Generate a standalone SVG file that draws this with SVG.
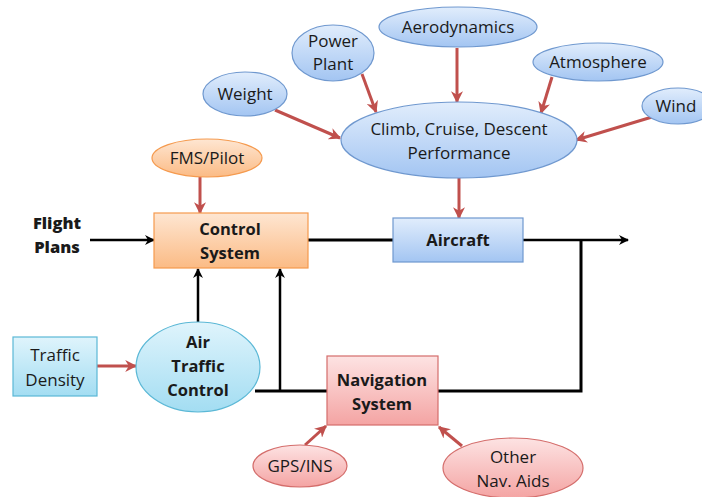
<svg xmlns="http://www.w3.org/2000/svg" width="702" height="497" viewBox="0 0 702 497">
<defs>
<linearGradient id="gBlue" x1="0" y1="0" x2="0" y2="1"><stop offset="0" stop-color="#e1edfc"/><stop offset="1" stop-color="#a3c5f2"/></linearGradient>
<linearGradient id="gOrange" x1="0" y1="0" x2="0" y2="1"><stop offset="0" stop-color="#fee6d2"/><stop offset="1" stop-color="#fbbb85"/></linearGradient>
<linearGradient id="gCyan" x1="0" y1="0" x2="0" y2="1"><stop offset="0" stop-color="#dff4fc"/><stop offset="1" stop-color="#a3ddf2"/></linearGradient>
<linearGradient id="gPink" x1="0" y1="0" x2="0" y2="1"><stop offset="0" stop-color="#fde3e3"/><stop offset="1" stop-color="#f4a4a3"/></linearGradient>
<marker id="aRed" viewBox="0 0 10 10" refX="9" refY="5" markerWidth="4" markerHeight="4" orient="auto"><path d="M0,0 L10,5 L0,10 L3,5 z" fill="#c0504d"/></marker>
<marker id="aBlk" viewBox="0 0 10 10" refX="9" refY="5" markerWidth="4" markerHeight="4" orient="auto"><path d="M0,0 L10,5 L0,10 L3,5 z" fill="#000"/></marker>
</defs>
<style>
.t{font-family:"Open Sans","Liberation Sans",sans-serif;font-size:17px;fill:#1a1a1a;text-anchor:middle}
.b{font-weight:bold;font-size:16.5px}
.blue{fill:url(#gBlue);stroke:#6f98cf;stroke-width:1.2}
.orange{fill:url(#gOrange);stroke:#f59a4e;stroke-width:1.2}
.cyan{fill:url(#gCyan);stroke:#5bb8d6;stroke-width:1.2}
.pink{fill:url(#gPink);stroke:#d46d6b;stroke-width:1.2}
.red{stroke:#c0504d;stroke-width:3;fill:none;marker-end:url(#aRed)}
.blk{stroke:#000;stroke-width:3;fill:none}
.blka{stroke:#000;stroke-width:2.5;fill:none;marker-end:url(#aBlk)}
</style>
<rect width="702" height="497" fill="#fff"/>
<g id="connectors">
<line class="red" x1="275" y1="110" x2="340" y2="138"/>
<line class="red" x1="362" y1="74" x2="376" y2="112"/>
<line class="red" x1="457" y1="48" x2="457" y2="102"/>
<line class="red" x1="552" y1="77" x2="541" y2="113"/>
<line class="red" x1="652" y1="117" x2="576" y2="140"/>
<line class="red" x1="459" y1="178" x2="459" y2="218"/>
<line class="red" x1="200" y1="177" x2="200" y2="213"/>
<line class="red" x1="97" y1="366" x2="136" y2="366"/>
<line class="red" x1="305" y1="445" x2="326" y2="426"/>
<line class="red" x1="462" y1="446" x2="439" y2="427"/>
<line class="blka" x1="90" y1="240" x2="154" y2="240"/>
<line class="blk" x1="308" y1="240" x2="393" y2="240"/>
<line class="blka" x1="523" y1="240" x2="628" y2="240"/>
<polyline class="blk" points="581,240 581,391 438,391"/>
<polyline class="blk" points="255,391 327,391"/>
<line class="blka" x1="198" y1="322" x2="198" y2="269"/>
<line class="blka" x1="280" y1="391" x2="280" y2="269"/>
</g>
<g id="aerodynamics"><ellipse class="blue" cx="458" cy="27" rx="79" ry="20"/><text class="t" x="458" y="33">Aerodynamics</text></g>
<g id="powerplant"><ellipse class="blue" cx="333" cy="53" rx="41" ry="28"/><text class="t" x="333" y="47">Power</text><text class="t" x="333" y="70">Plant</text></g>
<g id="atmosphere"><ellipse class="blue" cx="598" cy="62" rx="65" ry="19"/><text class="t" x="598" y="68">Atmosphere</text></g>
<g id="weight"><ellipse class="blue" cx="245" cy="94" rx="42" ry="22"/><text class="t" x="245" y="100">Weight</text></g>
<g id="wind"><ellipse class="blue" cx="678" cy="106" rx="36" ry="18"/><text class="t" x="676" y="112">Wind</text></g>
<g id="performance"><ellipse class="blue" cx="459" cy="140" rx="118" ry="38"/><text class="t" x="459" y="135">Climb, Cruise, Descent</text><text class="t" x="459" y="159">Performance</text></g>
<g id="fmspilot"><ellipse class="orange" cx="207" cy="158" rx="55" ry="19"/><text class="t" x="207" y="164">FMS/Pilot</text></g>
<g id="control"><rect class="orange" x="154" y="213" width="154" height="55"/><text class="t b" x="230" y="235">Control</text><text class="t b" x="230" y="259">System</text></g>
<g id="flightplans"><text class="t b" x="57" y="229" style="font-weight:800">Flight</text><text class="t b" x="57" y="253" style="font-weight:800">Plans</text></g>
<g id="aircraft"><rect class="blue" x="393" y="218" width="130" height="44"/><text class="t b" x="458" y="246">Aircraft</text></g>
<g id="traffic"><rect class="cyan" x="13" y="337" width="84" height="59"/><text class="t" x="55" y="361">Traffic</text><text class="t" x="55" y="386">Density</text></g>
<g id="atc"><ellipse class="cyan" cx="198" cy="367" rx="62" ry="45"/><text class="t b" x="198" y="348">Air</text><text class="t b" x="198" y="372">Traffic</text><text class="t b" x="198" y="396">Control</text></g>
<g id="navigation"><rect class="pink" x="327" y="356" width="111" height="69"/><text class="t b" x="382" y="386">Navigation</text><text class="t b" x="382" y="410">System</text></g>
<g id="gpsins"><ellipse class="pink" cx="300" cy="466" rx="47" ry="21"/><text class="t" x="300" y="472">GPS/INS</text></g>
<g id="othernav"><ellipse class="pink" cx="513" cy="468" rx="70" ry="30"/><text class="t" x="513" y="463">Other</text><text class="t" x="513" y="487">Nav. Aids</text></g>
</svg>
